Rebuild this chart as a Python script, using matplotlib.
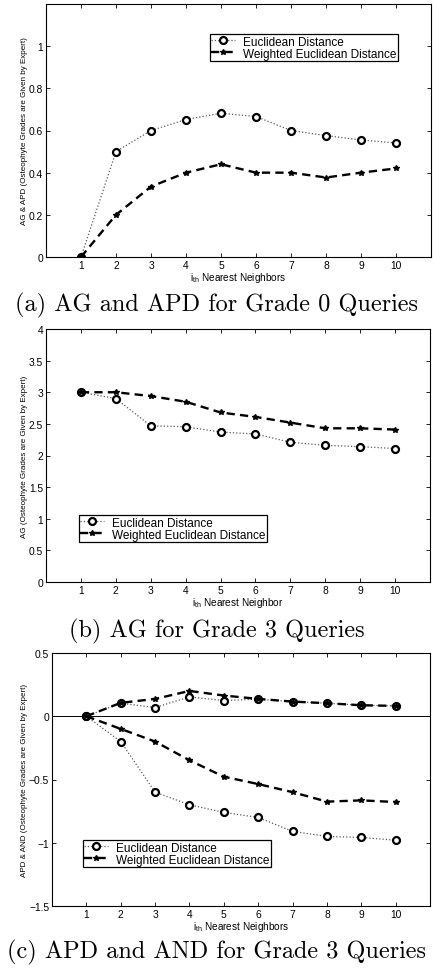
import matplotlib
matplotlib.use("Agg")
import matplotlib.pyplot as plt
from matplotlib.lines import Line2D

plt.rcParams['font.family'] = ['Liberation Sans', 'DejaVu Sans']

neighbors = [1, 2, 3, 4, 5, 6, 7, 8, 9, 10]

# (a) AG and APD for Grade 0 queries
a_euclid = [0.0, 0.50, 0.60, 0.652, 0.682, 0.666, 0.60, 0.576, 0.555, 0.541]
a_weighted = [0.0, 0.20, 0.334, 0.40, 0.44, 0.40, 0.40, 0.377, 0.40, 0.42]

# (b) AG for Grade 3 queries
b_euclid = [3.0, 2.90, 2.47, 2.455, 2.37, 2.34, 2.21, 2.16, 2.14, 2.11]
b_weighted = [3.0, 3.0, 2.94, 2.85, 2.68, 2.61, 2.52, 2.43, 2.43, 2.41]

# (c) APD and AND for Grade 3 queries
c_apd_euclid = [0.0, 0.103, 0.069, 0.153, 0.124, 0.135, 0.116, 0.103, 0.087, 0.082]
c_apd_weighted = [0.0, 0.106, 0.137, 0.20, 0.164, 0.137, 0.116, 0.103, 0.087, 0.082]
c_and_euclid = [0.0, -0.20, -0.60, -0.70, -0.76, -0.80, -0.91, -0.95, -0.958, -0.98]
c_and_weighted = [0.0, -0.10, -0.20, -0.348, -0.478, -0.536, -0.60, -0.675, -0.665, -0.678]

labels = ["Euclidean Distance", "Weighted Euclidean Distance"]
captions = ["(a) AG and APD for Grade 0 Queries",
            "(b) AG for Grade 3 Queries",
            "(c) APD and AND for Grade 3 Queries"]
ylabels = ["AG & APD (Osteophyte Grades are Given by Expert)",
           "AG (Osteophyte Grades are Given by Expert)",
           "APD & AND (Osteophyte Grades are Given by Expert)"]
xlabels = [r"$\mathregular{i_{th}}$ Nearest Neighbors",
           r"$\mathregular{i_{th}}$ Nearest Neighbor",
           r"$\mathregular{i_{th}}$ Nearest Neighbors"]

W, H = 433, 970
fig = plt.figure(figsize=(W / 100, H / 100), dpi=100)

def box(l, t, r, b):
    return [l / W, 1 - b / H, (r - l) / W, (b - t) / H]

e_kw = dict(color='0.35', linestyle=':', linewidth=0.9, marker='o', markersize=5,
            markerfacecolor='white', markeredgecolor='black', markeredgewidth=1.6)
w_kw = dict(color='black', linestyle='--', linewidth=1.7, marker='*', markersize=4,
            markerfacecolor='black', markeredgecolor='black', dashes=(3.5, 2.2))

handles = [Line2D([], [], **e_kw), Line2D([], [], **w_kw)]

def style(ax, ylim, yticks, yticklabels, ylabel, xlabel):
    ax.set_xlim(0, 11)
    ax.set_xticks(neighbors)
    ax.set_ylim(*ylim)
    ax.set_yticks(yticks)
    ax.set_yticklabels(yticklabels)
    ax.tick_params(direction='in', top=True, right=True, labelsize=7.4, length=3,
                   width=0.6, pad=2)
    for s in ax.spines.values():
        s.set_linewidth(0.8)
    ax.set_ylabel(ylabel, fontsize=5.8, labelpad=0.5)
    ax.set_xlabel(xlabel, fontsize=7.2, labelpad=0)

def legend(ax, anchor):
    lg = ax.legend(handles, labels, loc='lower left', bbox_to_anchor=anchor,
                   fontsize=8.5, frameon=True, fancybox=False, framealpha=1,
                   edgecolor='black', borderpad=0.12, labelspacing=0.0,
                   handlelength=2.0, handletextpad=0.7, borderaxespad=0)
    lg.get_frame().set_linewidth(0.9)

# Panel (a)
ax1 = fig.add_axes(box(46, 5, 431, 258))
ax1.plot(neighbors, a_euclid, **e_kw)
ax1.plot(neighbors, a_weighted, **w_kw)
style(ax1, (0, 1.2), [0, 0.2, 0.4, 0.6, 0.8, 1.0],
      ["0", "0.2", "0.4", "0.6", "0.8", "1"], ylabels[0], xlabels[0])
legend(ax1, ((210 - 46) / 385, (258 - 62) / 253))

# Panel (b)
ax2 = fig.add_axes(box(46, 330, 430, 583))
ax2.plot(neighbors, b_euclid, **e_kw)
ax2.plot(neighbors, b_weighted, **w_kw)
style(ax2, (0, 4), [0, 0.5, 1, 1.5, 2, 2.5, 3, 3.5, 4],
      ["0", "0.5", "1", "1.5", "2", "2.5", "3", "3.5", "4"], ylabels[1], xlabels[1])
legend(ax2, ((79 - 46) / 384, (583 - 543) / 253))

# Panel (c)
ax3 = fig.add_axes(box(52, 654, 430, 907))
ax3.axhline(0, color='black', linewidth=0.7)
ax3.plot(neighbors, c_apd_euclid, **e_kw)
ax3.plot(neighbors, c_apd_weighted, **w_kw)
ax3.plot(neighbors, c_and_euclid, **e_kw)
ax3.plot(neighbors, c_and_weighted, **w_kw)
style(ax3, (-1.5, 0.5), [-1.5, -1, -0.5, 0, 0.5],
      ["\u22121.5", "\u22121", "\u22120.5", "0", "0.5"], ylabels[2], xlabels[2])
legend(ax3, ((83 - 52) / 378, (907 - 868) / 253))

# Captions
for y, cap in zip([305, 631, 952], captions):
    fig.text(0.5, 1 - y / H, cap, ha='center', va='center', fontsize=17.5,
             family=['cmr10', 'DejaVu Serif'])

fig.savefig("out.png", dpi=100)
